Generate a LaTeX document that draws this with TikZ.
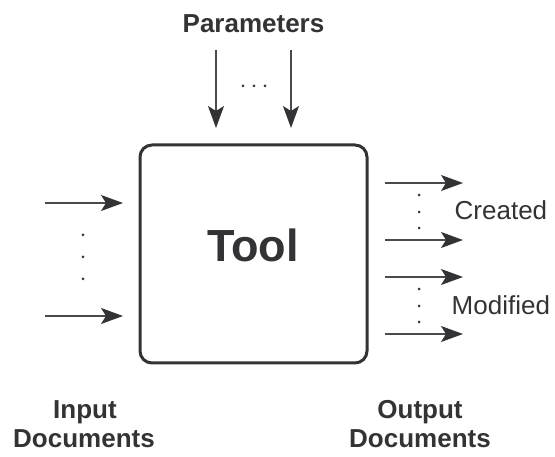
\documentclass[tikz,border=0pt]{standalone}
\usepackage{fontspec}
\setmainfont{Liberation Sans}
\usetikzlibrary{arrows.meta}
\definecolor{ink}{HTML}{333336}
\definecolor{shaft}{HTML}{4A4A4E}
\tikzset{
  flow/.style={draw=shaft, line width=1.3pt, -{Stealth[length=22pt,width=16pt,inset=5pt,color=ink,fill=ink]}},
  boldlbl/.style={anchor=base, inner sep=0pt, text=ink, font=\bfseries\fontsize{26}{30}\selectfont},
  plainlbl/.style={anchor=base west, inner sep=0pt, text=ink, font=\fontsize{26}{30}\selectfont},
  dotmark/.style={fill=ink, draw=none, circle, inner sep=0pt, minimum size=3pt},
  toolbox/.style={draw=ink, line width=3pt, rounded corners=12pt, fill=white}
}
\begin{document}
\begin{tikzpicture}[x=1pt,y=-1pt]
\useasboundingbox (0,0) rectangle (555,457);
% box
\path[toolbox] (140,145) rectangle (367,363);
\node[anchor=base, inner sep=0pt, text=ink, font=\bfseries\fontsize{45}{50}\selectfont] (tool) at (253,262) {Tool};
% parameters
\node[boldlbl] (params) at (253.5,33) {Parameters};
\coordinate (p1s) at (216,50); \coordinate (p1e) at (216,128);
\coordinate (p2s) at (291,50); \coordinate (p2e) at (291,128);
\draw[flow] (p1s) -- (p1e);
\draw[flow] (p2s) -- (p2e);
\node[dotmark] (pd1) at (243,86) {};
\node[dotmark] (pd2) at (254,86) {};
\node[dotmark] (pd3) at (265,86) {};
% inputs
\coordinate (i1s) at (45,203); \coordinate (i1e) at (123,203);
\coordinate (i2s) at (45,316); \coordinate (i2e) at (123,316);
\draw[flow] (i1s) -- (i1e);
\draw[flow] (i2s) -- (i2e);
\node[dotmark] (id1) at (83,235) {};
\node[dotmark] (id2) at (83,257) {};
\node[dotmark] (id3) at (83,279) {};
% outputs
\coordinate (o1s) at (385,183); \coordinate (o1e) at (463,183);
\coordinate (o2s) at (385,240); \coordinate (o2e) at (463,240);
\coordinate (o3s) at (385,277); \coordinate (o3e) at (463,277);
\coordinate (o4s) at (385,334); \coordinate (o4e) at (463,334);
\draw[flow] (o1s) -- (o1e);
\draw[flow] (o2s) -- (o2e);
\draw[flow] (o3s) -- (o3e);
\draw[flow] (o4s) -- (o4e);
\node[dotmark] (cd1) at (419,195) {};
\node[dotmark] (cd2) at (419,212) {};
\node[dotmark] (cd3) at (419,228) {};
\node[dotmark] (md1) at (419,289) {};
\node[dotmark] (md2) at (419,306) {};
\node[dotmark] (md3) at (419,322) {};
\node[plainlbl] (created) at (454.5,220) {Created};
\node[plainlbl] (modified) at (451.5,315) {Modified};
% bottom labels
\node[boldlbl] (in1) at (85,419) {Input};
\node[boldlbl] (in2) at (84,448) {Documents};
\node[boldlbl] (out1) at (420,419) {Output};
\node[boldlbl] (out2) at (420,448) {Documents};
\end{tikzpicture}
\end{document}
